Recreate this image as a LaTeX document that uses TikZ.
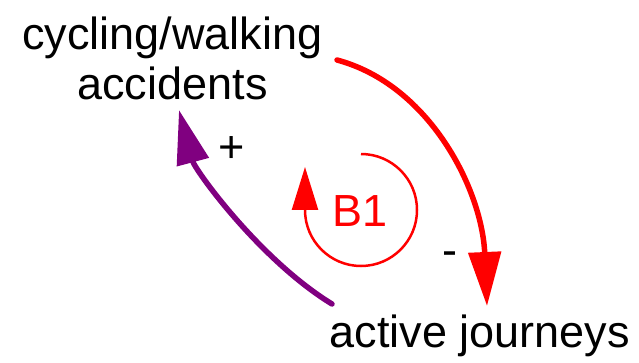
\documentclass[tikz,border=0pt]{standalone}
\usepackage{fontspec}
\setmainfont{Liberation Sans}
\usetikzlibrary{arrows.meta}
\definecolor{loopred}{RGB}{255,0,0}
\definecolor{linkpurple}{RGB}{128,0,128}
\tikzset{
  var/.style={inner sep=0pt, font=\fontsize{45}{50}\selectfont, text=black, align=center},
  sign/.style={inner sep=0pt, font=\fontsize{45}{50}\selectfont, text=black},
  link/.style={line width=5.5pt, line cap=round, -{Triangle[length=54pt,width=32pt]}},
  looplbl/.style={inner sep=0pt, font=\fontsize{45}{50}\selectfont, text=loopred}
}
\begin{document}
\begin{tikzpicture}[x=1pt,y=-1pt]
\useasboundingbox (0,0) rectangle (639,363);
\node[var, anchor=base] (acc) at (172.5,100) {cycling/walking\\accidents};
\node[var, anchor=base] (jour) at (480,347) {active journeys};
\coordinate (rs) at (337,60);
\coordinate (re) at (487,306);
\coordinate (ps) at (332,304);
\coordinate (pe) at (179,110);
\draw[link, loopred] (rs) .. controls (430,85) and (482,190) .. (re);
\draw[link, linkpurple] (ps) .. controls (260,260) and (195,170) .. (pe);
\node[sign] (plus) at (231.5,149.5) {+};
\node[sign] (minus) at (450,259) {-};
\node[looplbl] (b1) at (360,211.5) {B1};
\coordinate (ltop) at (361,154);
\draw[loopred, line width=2.5pt, -{Triangle[length=43pt,width=26pt]}] (ltop) arc[start angle=-90, end angle=180, radius=56] -- ++(0,-43);
\end{tikzpicture}
\end{document}
